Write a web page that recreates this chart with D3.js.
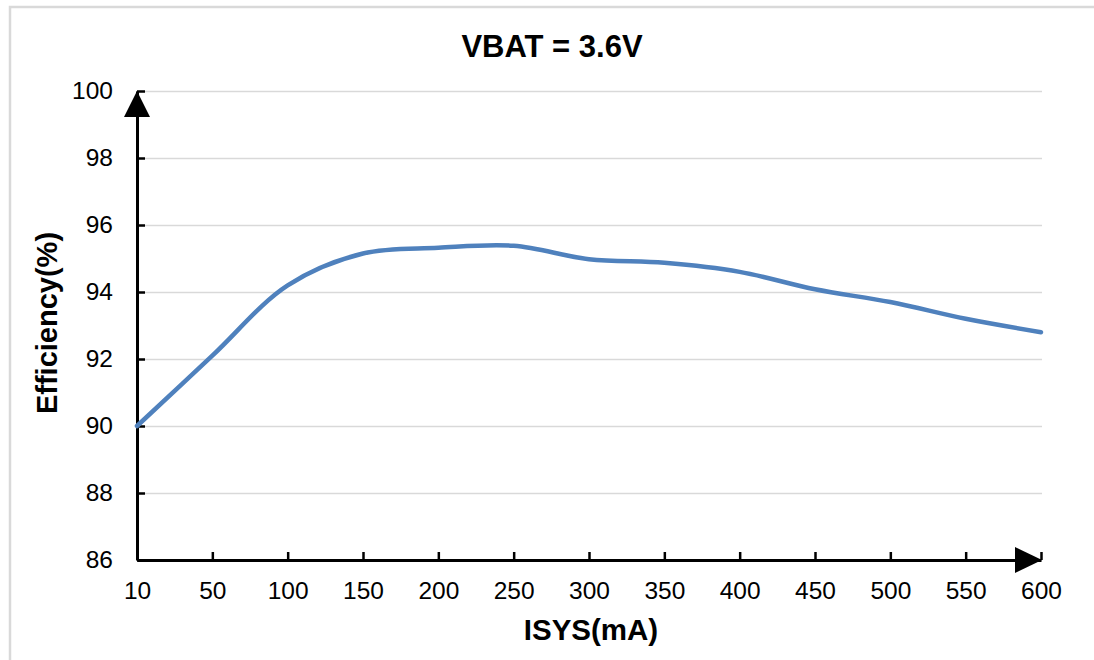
<!DOCTYPE html>
<html>
<head>
<meta charset="utf-8">
<script src="https://cdn.jsdelivr.net/npm/d3@7"></script>
<style>
  html, body { margin: 0; padding: 0; background: #fff; }
  svg { display: block; font-family: "Liberation Sans", Arial, sans-serif; }
</style>
</head>
<body>
<svg id="chart" width="1094" height="660"></svg>
<script>
// x categories (ISYS, mA) and efficiency readings (%)
const currents = [10, 50, 100, 150, 200, 250, 300, 350, 400, 450, 500, 550, 600];
const efficiency = [90.0, 92.1, 94.2, 95.15, 95.32, 95.38, 94.98, 94.87, 94.6, 94.08, 93.7, 93.2, 92.8];
const yTicks = [86, 88, 90, 92, 94, 96, 98, 100];

const title = "VBAT = 3.6V";
const xTitle = "ISYS(mA)";
const yTitle = "Efficiency(%)";

const svg = d3.select("#chart");
const plot = { left: 137, right: 1041, top: 91, bottom: 560 };

// light frame round the whole chart area
svg.append("rect")
  .attr("x", 10).attr("y", 7)
  .attr("width", 1200).attr("height", 800)
  .attr("fill", "none")
  .attr("stroke", "#d9d9d9")
  .attr("stroke-width", 2.5);

const x = d3.scalePoint().domain(currents).range([plot.left, plot.right]);
const y = d3.scaleLinear().domain([86, 100]).range([plot.bottom, plot.top]);

// gridlines
const grid = svg.append("g")
  .attr("transform", `translate(${plot.left},0)`)
  .call(d3.axisLeft(y).tickValues(yTicks.slice(1)).tickSize(-(plot.right - plot.left + 1)).tickFormat(""));
grid.select(".domain").remove();
grid.selectAll("line").attr("stroke", "#d9d9d9").attr("stroke-width", 1.5);

// y axis
const yAxis = svg.append("g")
  .attr("transform", `translate(${plot.left},0)`)
  .call(d3.axisLeft(y).tickValues(yTicks).tickSize(-8).tickSizeOuter(0).tickPadding(24));
yAxis.select(".domain").attr("stroke", "#000").attr("stroke-width", 3);
yAxis.selectAll(".tick line").attr("stroke", "#000").attr("stroke-width", 2.5);
yAxis.selectAll("text")
  .attr("font-size", 24.5)
  .attr("fill", "#000")
  .attr("font-family", "Liberation Sans, Arial, sans-serif");

// x axis
const xAxis = svg.append("g")
  .attr("transform", `translate(0,${plot.bottom})`)
  .call(d3.axisBottom(x).tickSize(-8).tickSizeOuter(0).tickPadding(22));
xAxis.select(".domain").attr("stroke", "#000").attr("stroke-width", 3);
xAxis.selectAll(".tick line").attr("stroke", "#000").attr("stroke-width", 2.5);
xAxis.selectAll("text")
  .attr("font-size", 24.5)
  .attr("fill", "#000")
  .attr("font-family", "Liberation Sans, Arial, sans-serif");

// arrow heads at the axis ends
const yTop = y(100), xEnd = x(600);
svg.append("path")
  .attr("d", `M${plot.left},${yTop} L${plot.left - 13},${yTop + 26} L${plot.left + 13},${yTop + 26} Z`)
  .attr("fill", "#000");
svg.append("path")
  .attr("d", `M${xEnd + 1},${plot.bottom} L${xEnd - 26},${plot.bottom - 13} L${xEnd - 26},${plot.bottom + 13} Z`)
  .attr("fill", "#000");

// efficiency curve
const line = d3.line()
  .x((d, i) => x(currents[i]))
  .y(d => y(d))
  .curve(d3.curveCatmullRom.alpha(0.5));

svg.append("path")
  .datum(efficiency)
  .attr("d", line)
  .attr("fill", "none")
  .attr("stroke", "#4f81bd")
  .attr("stroke-width", 4.5)
  .attr("stroke-linecap", "round")
  .attr("stroke-linejoin", "round");

// titles
svg.append("text")
  .attr("x", 552).attr("y", 57)
  .attr("text-anchor", "middle")
  .attr("font-size", 31).attr("font-weight", "bold")
  .text(title);

svg.append("text")
  .attr("x", 591).attr("y", 640)
  .attr("text-anchor", "middle")
  .attr("font-size", 29.5).attr("font-weight", "bold")
  .text(xTitle);

svg.append("text")
  .attr("transform", "translate(57,323) rotate(-90)")
  .attr("text-anchor", "middle")
  .attr("font-size", 29).attr("font-weight", "bold")
  .text(yTitle);
</script>
</body>
</html>
